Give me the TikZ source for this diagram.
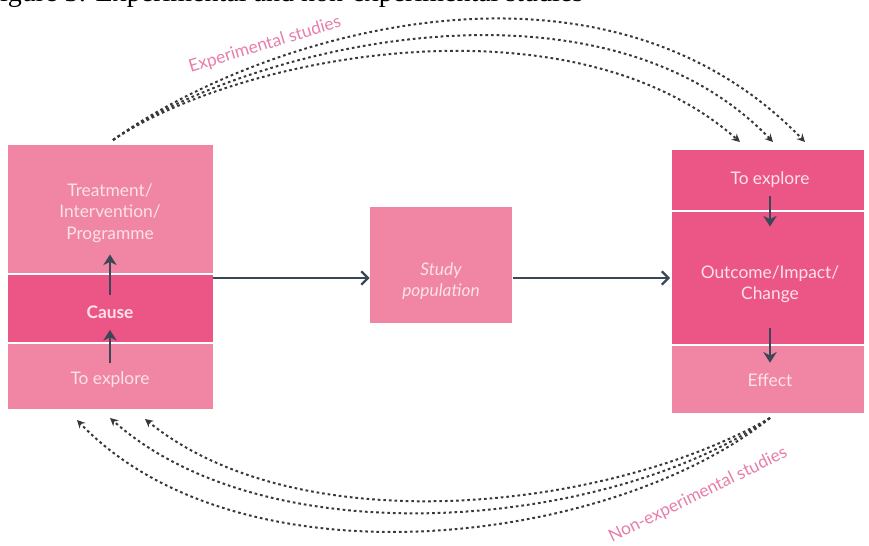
\documentclass[tikz,border=0pt]{standalone}
\usepackage{fontspec}
\setmainfont{Lato}
\newfontfamily\capfont{Liberation Serif}
\usetikzlibrary{arrows.meta}

\definecolor{pinkLight}{RGB}{240,134,163}
\definecolor{pinkDeep}{RGB}{236,86,135}
\definecolor{pinkText}{RGB}{253,226,234}
\definecolor{pinkLabel}{RGB}{231,125,170}
\definecolor{slate}{RGB}{60,70,86}
\definecolor{dotGray}{RGB}{55,55,60}

\tikzset{every picture/.style={line width=0.75pt}}
\tikzset{
  boxtext/.style={text=pinkText, align=center, inner sep=0.75pt, font=\fontsize{13}{16}\selectfont},
  flow/.style={color=slate, line width=1.6pt, -{Straight Barb[length=5pt,width=10pt]}},
  inflow/.style={color=slate, line width=1.8pt, -{Stealth[length=8pt,width=10pt,inset=2.5pt]}},
  studyline/.style={color=dotGray, line width=1.5pt, dash pattern=on 2pt off 2.2pt, -{Stealth[length=6pt,width=6pt]}},
  studylabel/.style={text=pinkLabel, inner sep=0.75pt, font=\fontsize{13}{15}\selectfont}
}

\begin{document}
\begin{tikzpicture}[x=0.75pt,y=0.75pt,yscale=-1,xscale=1]
\useasboundingbox (0,0) rectangle (869,546);

% Caption (cut by the top of the page)
\begin{scope}
\clip (0,0) rectangle (869,546);
\node (caption) [anchor=base west, inner sep=0pt, font=\capfont\fontsize{21}{24}\selectfont] at (-16,1.5) {Figure 3: Experimental and non-experimental studies};
\end{scope}

%Shape: Rectangle [left box]
\draw [draw=none, fill=pinkLight] (8,145) rectangle (213,274);
\draw [draw=none, fill=pinkDeep] (8,274) rectangle (213,343);
\draw [draw=none, fill=pinkLight] (8,343) rectangle (213,409);
\draw [white, line width=1.5pt] (8,274) -- (213,274) (8,343) -- (213,343);
%Shape: Rectangle [right box]
\draw [draw=none, fill=pinkDeep] (672,150) rectangle (864,345);
\draw [draw=none, fill=pinkLight] (672,345) rectangle (864,413);
\draw [white, line width=1.5pt] (672,211) -- (864,211) (672,345) -- (864,345);
%Shape: Rectangle [middle box]
\node (pop) [fill=pinkLight, minimum width=106.5pt, minimum height=87pt] at (441,265) {};

% Text Node
\node (treat) [boxtext] at (110,213) {Treatment/\\Intervention/\\Programme};
% Text Node
\node (cause) [boxtext, font=\fontsize{13}{16}\selectfont\bfseries] at (110,312) {Cause};
% Text Node
\node (explore1) [boxtext] at (110,380) {To explore};
% Text Node
\node (popTxt) [boxtext, font=\fontsize{13}{16}\selectfont\itshape] at (441,281) {Study\\population};
% Text Node
\node (explore2) [boxtext] at (770,180) {To explore};
% Text Node
\node (outcome) [boxtext] at (770,284) {Outcome/Impact/\\Change};
% Text Node
\node (effect) [boxtext] at (770,380) {Effect};
% Text Node
\node (expLabel) [studylabel, rotate=17] at (265,45) {Experimental studies};
% Text Node
\node (nonexpLabel) [studylabel, rotate=26] at (698,495) {Non-experimental studies};

%Straight Lines
\coordinate (Lout) at (213,278);
\coordinate (Rin) at (670,278);
\draw [flow] (Lout) -- (Lout -| pop.west);
\draw [flow] (pop.east |- Rin) -- (Rin);
\draw [inflow, shorten <=7pt, shorten >=8pt] (cause) -- (treat);
\draw [inflow, shorten <=6pt, shorten >=7.5pt] (explore1) -- (cause);
\draw [inflow, shorten <=5pt, shorten >=28pt] (explore2) -- (outcome);
\draw [inflow, shorten <=18pt, shorten >=7pt] (outcome) -- (effect);

%Curve Lines [experimental]
\coordinate (expStart) at (113,140);
\coordinate (expEnd1) at (740,142);
\coordinate (expEnd2) at (773,142);
\coordinate (expEnd3) at (805,142);
\draw [studyline] (expStart) .. controls (260,35) and (600,-70) .. (expEnd3);
\draw [studyline] (expStart) .. controls (250,45) and (600,-38) .. (expEnd2);
\draw [studyline] (expStart) .. controls (240,55) and (570,-8) .. (expEnd1);

%Curve Lines [non-experimental]
\coordinate (nonStart) at (770,418);
\coordinate (nonEnd1) at (145,419);
\coordinate (nonEnd2) at (110,418);
\coordinate (nonEnd3) at (77,420);
\draw [studyline] (nonStart) .. controls (610,510) and (300,545) .. (nonEnd1);
\draw [studyline] (nonStart) .. controls (610,528) and (270,560) .. (nonEnd2);
\draw [studyline] (nonStart) .. controls (610,546) and (240,590) .. (nonEnd3);
\end{tikzpicture}
\end{document}
